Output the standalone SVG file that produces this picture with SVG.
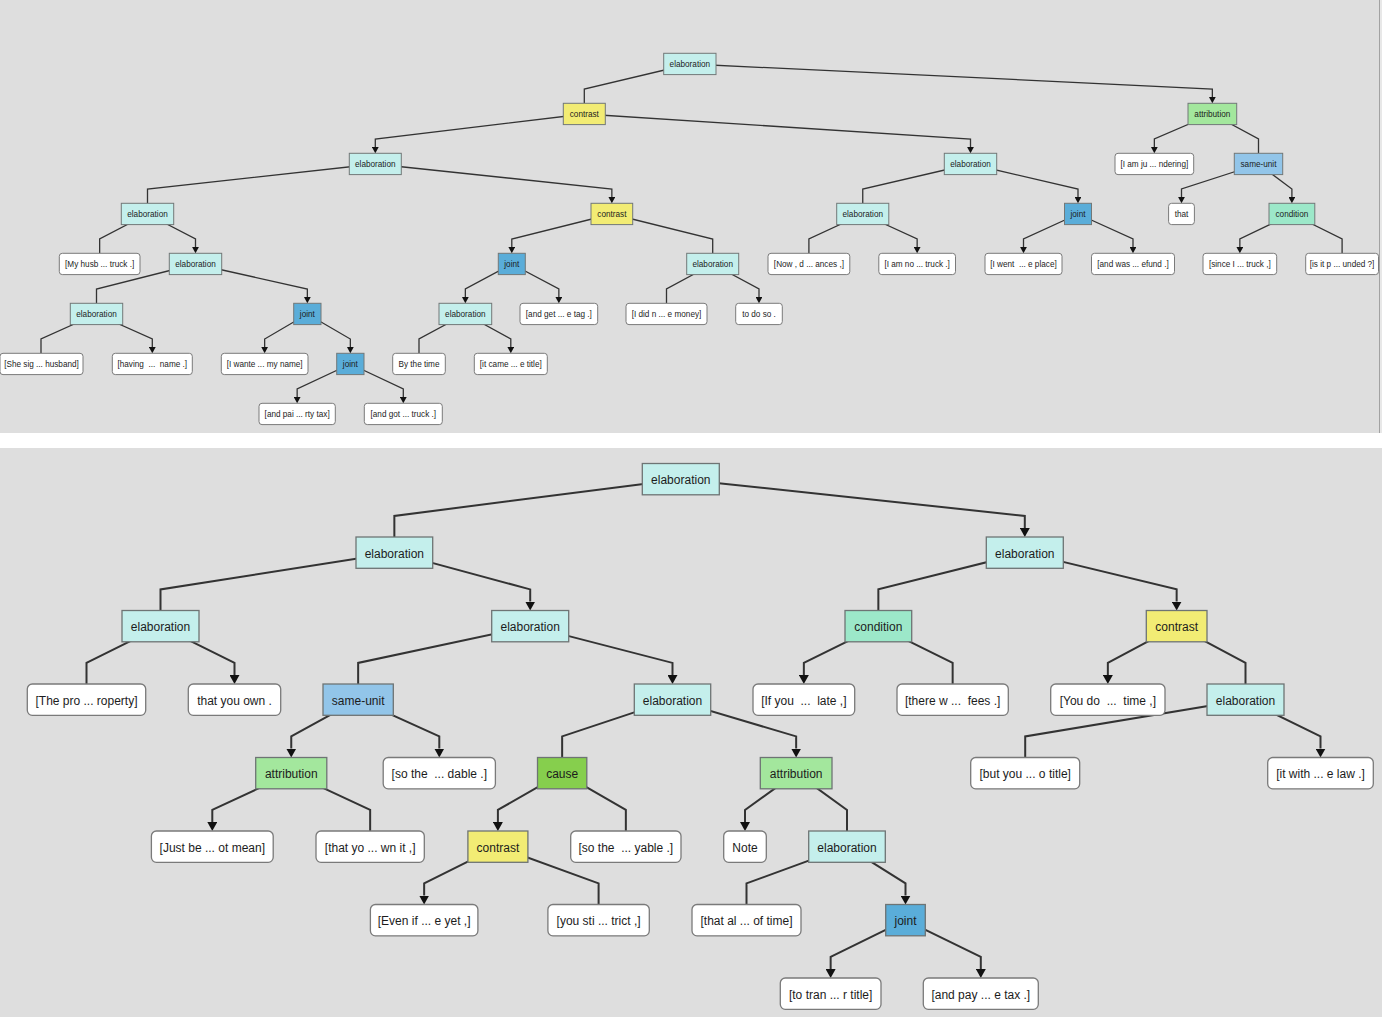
<svg xmlns="http://www.w3.org/2000/svg" width="1382" height="1017" viewBox="0 0 1382 1017">
<defs>
<style>
text{font-family:"Liberation Sans",Arial,Helvetica,sans-serif;fill:#1c1c1c;text-anchor:middle;white-space:pre}
.tp text{font-size:8.2px}
.bt text{font-size:12px}
.tp rect{stroke:#727878;stroke-width:1}
.bt rect{stroke:#6e7474;stroke-width:1.3}
.edu rect{fill:#ffffff;stroke:#7a7a7a}
.el rect{fill:#c4efec}
.co rect{fill:#f2ec74}
.at rect{fill:#a3e79d}
.su rect{fill:#92c5e9}
.jo rect{fill:#5aadd9}
.cd rect{fill:#9ce8c9}
.ca rect{fill:#86cf4d}
.ct path{fill:none;stroke:#333;stroke-width:1.3}
.cb path{fill:none;stroke:#333;stroke-width:2}
.ct path.a{marker-end:url(#arT)}
.cb path.a{marker-end:url(#arB)}
</style>
<marker id="arT" markerUnits="userSpaceOnUse" markerWidth="6.3" markerHeight="6.8" viewBox="0 -3.4 6.3 6.8" refX="0" refY="0" orient="auto"><path d="M0,-3.4L6.3,0L0,3.4z" fill="#111"/></marker>
<marker id="arB" markerUnits="userSpaceOnUse" markerWidth="9" markerHeight="10" viewBox="0 -5 9 10" refX="0" refY="0" orient="auto"><path d="M0,-5L9,0L0,5z" fill="#111"/></marker>
</defs>
<rect x="0" y="0" width="1382" height="1017" fill="#ffffff"/>
<rect x="0" y="0" width="1382" height="433" fill="#dedede"/>
<rect x="1380" y="0" width="2" height="433" fill="#e8e8e8"/>
<line x1="1379.5" y1="0" x2="1379.5" y2="433" stroke="#a2a2a2" stroke-width="1"/>
<rect x="0" y="448" width="1382" height="569" fill="#dedede"/>

<g id="connectors-top" class="ct">
<path d="M689.85,64L584.3,89L584.3,103.3"/>
<path class="a" d="M689.85,64L1212.35,89L1212.35,97"/>
<path class="a" d="M584.3,114L375.3,139L375.3,147"/>
<path class="a" d="M584.3,114L970.5,139L970.5,147"/>
<path class="a" d="M1212.35,114L1154.35,139L1154.35,147"/>
<path d="M1212.35,114L1258.5,139L1258.5,153.3"/>
<path d="M375.3,164L147.5,189L147.5,203.3"/>
<path class="a" d="M375.3,164L611.85,189L611.85,197"/>
<path d="M970.5,164L862.75,189L862.75,203.3"/>
<path class="a" d="M970.5,164L1078,189L1078,197"/>
<path class="a" d="M1258.5,164L1181.5,189L1181.5,197"/>
<path class="a" d="M1258.5,164L1291.9,189L1291.9,197"/>
<path d="M147.5,214L99.65,239L99.65,253.3"/>
<path class="a" d="M147.5,214L195.5,239L195.5,247"/>
<path class="a" d="M611.85,214L511.8,239L511.8,247"/>
<path d="M611.85,214L712.7,239L712.7,253.3"/>
<path d="M862.75,214L808.9,239L808.9,253.3"/>
<path class="a" d="M862.75,214L917.15,239L917.15,247"/>
<path class="a" d="M1078,214L1023.5,239L1023.5,247"/>
<path class="a" d="M1078,214L1133,239L1133,247"/>
<path class="a" d="M1291.9,214L1239.85,239L1239.85,247"/>
<path d="M1291.9,214L1342.1,239L1342.1,253.3"/>
<path d="M195.5,264L96.5,289L96.5,303.3"/>
<path class="a" d="M195.5,264L307.35,289L307.35,297"/>
<path class="a" d="M511.8,264L465.35,289L465.35,297"/>
<path class="a" d="M511.8,264L558.85,289L558.85,297"/>
<path d="M712.7,264L666.5,289L666.5,303.3"/>
<path class="a" d="M712.7,264L759,289L759,297"/>
<path d="M96.5,314L41,339L41,353.3"/>
<path class="a" d="M96.5,314L152.3,339L152.3,347"/>
<path class="a" d="M307.35,314L264.65,339L264.65,347"/>
<path class="a" d="M307.35,314L350.35,339L350.35,347"/>
<path d="M465.35,314L419,339L419,353.3"/>
<path class="a" d="M465.35,314L510.8,339L510.8,347"/>
<path class="a" d="M350.35,364L297.15,389L297.15,397"/>
<path class="a" d="M350.35,364L403.3,389L403.3,397"/>
</g>

<g id="connectors-bottom" class="cb">
<path d="M680.8,479.15L394.35,515.9L394.35,537"/>
<path class="a" d="M680.8,479.15L1024.8,515.9L1024.8,528"/>
<path d="M394.35,552.65L160.5,589.4L160.5,610.5"/>
<path class="a" d="M394.35,552.65L530.2,589.4L530.2,601.5"/>
<path d="M1024.8,552.65L878.35,589.4L878.35,610.5"/>
<path class="a" d="M1024.8,552.65L1176.65,589.4L1176.65,601.5"/>
<path d="M160.5,626.15L86.5,662.9L86.5,684"/>
<path class="a" d="M160.5,626.15L234.5,662.9L234.5,675"/>
<path d="M530.2,626.15L358.15,662.9L358.15,684"/>
<path class="a" d="M530.2,626.15L672.5,662.9L672.5,675"/>
<path class="a" d="M878.35,626.15L803.85,662.9L803.85,675"/>
<path d="M878.35,626.15L952.65,662.9L952.65,684"/>
<path class="a" d="M1176.65,626.15L1107.85,662.9L1107.85,675"/>
<path d="M1176.65,626.15L1245.5,662.9L1245.5,684"/>
<path class="a" d="M358.15,699.65L291.25,736.4L291.25,748.5"/>
<path class="a" d="M358.15,699.65L439.3,736.4L439.3,748.5"/>
<path d="M672.5,699.65L562.15,736.4L562.15,757.5"/>
<path class="a" d="M672.5,699.65L796.15,736.4L796.15,748.5"/>
<path d="M1245.5,699.65L1025.2,736.4L1025.2,757.5"/>
<path class="a" d="M1245.5,699.65L1320.5,736.4L1320.5,748.5"/>
<path class="a" d="M291.25,773.15L212.3,809.9L212.3,822"/>
<path d="M291.25,773.15L370.15,809.9L370.15,831"/>
<path class="a" d="M562.15,773.15L497.9,809.9L497.9,822"/>
<path d="M562.15,773.15L625.85,809.9L625.85,831"/>
<path class="a" d="M796.15,773.15L745,809.9L745,822"/>
<path d="M796.15,773.15L847,809.9L847,831"/>
<path class="a" d="M497.9,846.65L424.15,883.4L424.15,895.5"/>
<path d="M497.9,846.65L598.6,883.4L598.6,904.5"/>
<path d="M847,846.65L746.5,883.4L746.5,904.5"/>
<path class="a" d="M847,846.65L905.5,883.4L905.5,895.5"/>
<path class="a" d="M905.5,920.15L830.65,956.9L830.65,969"/>
<path class="a" d="M905.5,920.15L980.8,956.9L980.8,969"/>
</g>

<g id="nodes-top" class="tp">
<g id="t1" class="el"><rect x="663.7" y="53.3" width="52.3" height="21.3"/><text x="689.85" y="67.2">elaboration</text></g>
<g id="t2" class="co"><rect x="563.3" y="103.3" width="42" height="21.3"/><text x="584.3" y="117.2">contrast</text></g>
<g id="t3" class="at"><rect x="1188" y="103.3" width="48.7" height="21.3"/><text x="1212.35" y="117.2">attribution</text></g>
<g id="t4" class="el"><rect x="349.3" y="153.3" width="52" height="21.3"/><text x="375.3" y="167.2">elaboration</text></g>
<g id="t5" class="el"><rect x="944.3" y="153.3" width="52.4" height="21.3"/><text x="970.5" y="167.2">elaboration</text></g>
<g id="t6" class="edu"><rect x="1115" y="153.3" width="78.7" height="21.3" rx="3"/><text x="1154.35" y="167.2">[I am ju ... ndering]</text></g>
<g id="t7" class="su"><rect x="1234.3" y="153.3" width="48.4" height="21.3"/><text x="1258.5" y="167.2">same-unit</text></g>
<g id="t8" class="el"><rect x="121.3" y="203.3" width="52.4" height="21.3"/><text x="147.5" y="217.2">elaboration</text></g>
<g id="t9" class="co"><rect x="591" y="203.3" width="41.7" height="21.3"/><text x="611.85" y="217.2">contrast</text></g>
<g id="t10" class="el"><rect x="836.7" y="203.3" width="52.1" height="21.3"/><text x="862.75" y="217.2">elaboration</text></g>
<g id="t11" class="jo"><rect x="1064.5" y="203.3" width="27" height="21.3"/><text x="1078" y="217.2">joint</text></g>
<g id="t12" class="edu"><rect x="1168.6" y="203.3" width="25.8" height="21.3" rx="3"/><text x="1181.5" y="217.2">that</text></g>
<g id="t13" class="cd"><rect x="1269" y="203.3" width="45.8" height="21.3"/><text x="1291.9" y="217.2">condition</text></g>
<g id="t14" class="edu"><rect x="59.3" y="253.3" width="80.7" height="21.3" rx="3"/><text x="99.65" y="267.2">[My husb ... truck .]</text></g>
<g id="t15" class="el"><rect x="169.3" y="253.3" width="52.4" height="21.3"/><text x="195.5" y="267.2">elaboration</text></g>
<g id="t16" class="jo"><rect x="498.3" y="253.3" width="27" height="21.3"/><text x="511.8" y="267.2">joint</text></g>
<g id="t17" class="el"><rect x="686.7" y="253.3" width="52" height="21.3"/><text x="712.7" y="267.2">elaboration</text></g>
<g id="t18" class="edu"><rect x="768" y="253.3" width="81.8" height="21.3" rx="3"/><text x="808.9" y="267.2">[Now , d ... ances ,]</text></g>
<g id="t19" class="edu"><rect x="878.8" y="253.3" width="76.7" height="21.3" rx="3"/><text x="917.15" y="267.2">[I am no ... truck .]</text></g>
<g id="t20" class="edu"><rect x="985" y="253.3" width="77" height="21.3" rx="3"/><text x="1023.5" y="267.2" xml:space="preserve">[I went  ... e place]</text></g>
<g id="t21" class="edu"><rect x="1091.5" y="253.3" width="83" height="21.3" rx="3"/><text x="1133" y="267.2">[and was ... efund .]</text></g>
<g id="t22" class="edu"><rect x="1203" y="253.3" width="73.7" height="21.3" rx="3"/><text x="1239.85" y="267.2">[since I ... truck ,]</text></g>
<g id="t23" class="edu"><rect x="1305.7" y="253.3" width="72.8" height="21.3" rx="3"/><text x="1342.1" y="267.2">[is it p ... unded ?]</text></g>
<g id="t24" class="el"><rect x="70.3" y="303.3" width="52.4" height="21.3"/><text x="96.5" y="317.2">elaboration</text></g>
<g id="t25" class="jo"><rect x="293.7" y="303.3" width="27.3" height="21.3"/><text x="307.35" y="317.2">joint</text></g>
<g id="t26" class="el"><rect x="439" y="303.3" width="52.7" height="21.3"/><text x="465.35" y="317.2">elaboration</text></g>
<g id="t27" class="edu"><rect x="520" y="303.3" width="77.7" height="21.3" rx="3"/><text x="558.85" y="317.2">[and get ... e tag .]</text></g>
<g id="t28" class="edu"><rect x="626" y="303.3" width="81" height="21.3" rx="3"/><text x="666.5" y="317.2">[I did n ... e money]</text></g>
<g id="t29" class="edu"><rect x="735.7" y="303.3" width="46.6" height="21.3" rx="3"/><text x="759" y="317.2">to do so .</text></g>
<g id="t30" class="edu"><rect x="0" y="353.3" width="83" height="21.3" rx="3"/><text x="41.5" y="367.2">[She sig ... husband]</text></g>
<g id="t31" class="edu"><rect x="112.3" y="353.3" width="80" height="21.3" rx="3"/><text x="152.3" y="367.2" xml:space="preserve">[having  ...  name .]</text></g>
<g id="t32" class="edu"><rect x="221.3" y="353.3" width="86.7" height="21.3" rx="3"/><text x="264.65" y="367.2">[I wante ... my name]</text></g>
<g id="t33" class="jo"><rect x="336.7" y="353.3" width="27.3" height="21.3"/><text x="350.35" y="367.2">joint</text></g>
<g id="t34" class="edu"><rect x="392.7" y="353.3" width="52.6" height="21.3" rx="3"/><text x="419" y="367.2">By the time</text></g>
<g id="t35" class="edu"><rect x="474.3" y="353.3" width="73" height="21.3" rx="3"/><text x="510.8" y="367.2">[it came ... e title]</text></g>
<g id="t36" class="edu"><rect x="259" y="403.3" width="76.3" height="21.3" rx="3"/><text x="297.15" y="417.2">[and pai ... rty tax]</text></g>
<g id="t37" class="edu"><rect x="364.3" y="403.3" width="78" height="21.3" rx="3"/><text x="403.3" y="417.2">[and got ... truck .]</text></g>
</g>

<g id="nodes-bottom" class="bt">
<g id="b1" class="el"><rect x="642.3" y="463.5" width="77" height="31.3"/><text x="680.8" y="484">elaboration</text></g>
<g id="b2" class="el"><rect x="356" y="537" width="76.7" height="31.3"/><text x="394.35" y="557.5">elaboration</text></g>
<g id="b3" class="el"><rect x="986.3" y="537" width="77" height="31.3"/><text x="1024.8" y="557.5">elaboration</text></g>
<g id="b4" class="el"><rect x="122" y="610.5" width="77" height="31.3"/><text x="160.5" y="631">elaboration</text></g>
<g id="b5" class="el"><rect x="491.7" y="610.5" width="77" height="31.3"/><text x="530.2" y="631">elaboration</text></g>
<g id="b6" class="cd"><rect x="845" y="610.5" width="66.7" height="31.3"/><text x="878.35" y="631">condition</text></g>
<g id="b7" class="co"><rect x="1146.3" y="610.5" width="60.7" height="31.3"/><text x="1176.65" y="631">contrast</text></g>
<g id="b8" class="edu"><rect x="27.3" y="684" width="118.4" height="31.3" rx="5"/><text x="86.5" y="704.5">[The pro ... roperty]</text></g>
<g id="b9" class="edu"><rect x="188.3" y="684" width="92.4" height="31.3" rx="5"/><text x="234.5" y="704.5">that you own .</text></g>
<g id="b10" class="su"><rect x="323" y="684" width="70.3" height="31.3"/><text x="358.15" y="704.5">same-unit</text></g>
<g id="b11" class="el"><rect x="634.3" y="684" width="76.4" height="31.3"/><text x="672.5" y="704.5">elaboration</text></g>
<g id="b12" class="edu"><rect x="753" y="684" width="101.7" height="31.3" rx="5"/><text x="803.85" y="704.5" xml:space="preserve">[If you  ...  late ,]</text></g>
<g id="b13" class="edu"><rect x="897" y="684" width="111.3" height="31.3" rx="5"/><text x="952.65" y="704.5" xml:space="preserve">[there w ...  fees .]</text></g>
<g id="b14" class="edu"><rect x="1050.7" y="684" width="114.3" height="31.3" rx="5"/><text x="1107.85" y="704.5" xml:space="preserve">[You do  ...  time ,]</text></g>
<g id="b15" class="el"><rect x="1207" y="684" width="77" height="31.3"/><text x="1245.5" y="704.5">elaboration</text></g>
<g id="b16" class="at"><rect x="255.7" y="757.5" width="71.1" height="31.3"/><text x="291.25" y="778">attribution</text></g>
<g id="b17" class="edu"><rect x="383.2" y="757.5" width="112.2" height="31.3" rx="5"/><text x="439.3" y="778" xml:space="preserve">[so the  ... dable .]</text></g>
<g id="b18" class="ca"><rect x="537.5" y="757.5" width="49.3" height="31.3"/><text x="562.15" y="778">cause</text></g>
<g id="b19" class="at"><rect x="760.3" y="757.5" width="71.7" height="31.3"/><text x="796.15" y="778">attribution</text></g>
<g id="b20" class="edu"><rect x="970.7" y="757.5" width="109" height="31.3" rx="5"/><text x="1025.2" y="778">[but you ... o title]</text></g>
<g id="b21" class="edu"><rect x="1267.7" y="757.5" width="105.6" height="31.3" rx="5"/><text x="1320.5" y="778">[it with ... e law .]</text></g>
<g id="b22" class="edu"><rect x="151.4" y="831" width="121.8" height="31.3" rx="5"/><text x="212.3" y="851.5">[Just be ... ot mean]</text></g>
<g id="b23" class="edu"><rect x="316" y="831" width="108.3" height="31.3" rx="5"/><text x="370.15" y="851.5">[that yo ... wn it ,]</text></g>
<g id="b24" class="co"><rect x="467.9" y="831" width="60" height="31.3"/><text x="497.9" y="851.5">contrast</text></g>
<g id="b25" class="edu"><rect x="570.7" y="831" width="110.3" height="31.3" rx="5"/><text x="625.85" y="851.5" xml:space="preserve">[so the  ... yable .]</text></g>
<g id="b26" class="edu"><rect x="723.7" y="831" width="42.6" height="31.3" rx="5"/><text x="745" y="851.5">Note</text></g>
<g id="b27" class="el"><rect x="808.7" y="831" width="76.6" height="31.3"/><text x="847" y="851.5">elaboration</text></g>
<g id="b28" class="edu"><rect x="370.4" y="904.5" width="107.5" height="31.3" rx="5"/><text x="424.15" y="925">[Even if ... e yet ,]</text></g>
<g id="b29" class="edu"><rect x="547.9" y="904.5" width="101.4" height="31.3" rx="5"/><text x="598.6" y="925">[you sti ... trict ,]</text></g>
<g id="b30" class="edu"><rect x="692" y="904.5" width="109" height="31.3" rx="5"/><text x="746.5" y="925">[that al ... of time]</text></g>
<g id="b31" class="jo"><rect x="885.7" y="904.5" width="39.6" height="31.3"/><text x="905.5" y="925">joint</text></g>
<g id="b32" class="edu"><rect x="780.3" y="978" width="100.7" height="31.3" rx="5"/><text x="830.65" y="998.5">[to tran ... r title]</text></g>
<g id="b33" class="edu"><rect x="923.3" y="978" width="115" height="31.3" rx="5"/><text x="980.8" y="998.5">[and pay ... e tax .]</text></g>
</g>
</svg>
